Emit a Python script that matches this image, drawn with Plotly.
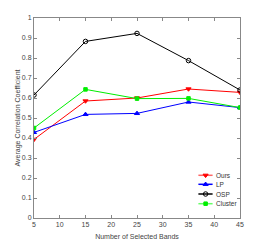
import plotly.graph_objects as go

bands = [5, 15, 25, 35, 45]
ours = [0.393, 0.585, 0.600, 0.645, 0.628]
lp = [0.428, 0.518, 0.523, 0.580, 0.552]
osp = [0.615, 0.883, 0.923, 0.787, 0.640]
cluster = [0.450, 0.643, 0.597, 0.598, 0.552]
names = ["Ours", "LP", "OSP", "Cluster"]

colors = ["#ff0000", "#0000ff", "#000000", "#00ee00"]
symbols = ["triangle-down", "triangle-up", "circle-open", "square"]
sizes = [4.5, 4.5, 4.5, 3.5]

fig = go.Figure()
for name, vals, col, sym, sz in zip(names, [ours, lp, osp, cluster], colors, symbols, sizes):
    fig.add_trace(go.Scatter(
        x=bands, y=vals, name=name, mode="lines+markers", showlegend=False,
        line=dict(color=col, width=1),
        marker=dict(symbol=sym, size=sz, color=col, line=dict(color=col, width=1)),
    ))

# custom compact legend (MATLAB style) on an overlay axis spanning the plot area
leg_x0, leg_xm, leg_x1, leg_tx = 0.798, 0.833, 0.867, 0.874
leg_rows = [0.2135, 0.1685, 0.12, 0.0715]
leg_colors = ["#ff6666", "#0000ff", "#000000", "#66ff66"]
for name, col, lcol, sym, sz, ry in zip(names, colors, leg_colors, symbols, sizes, leg_rows):
    fig.add_trace(go.Scatter(
        x=[leg_x0, leg_x1], y=[ry, ry], mode="lines", xaxis="x2", yaxis="y2",
        line=dict(color=lcol, width=1.5), showlegend=False, hoverinfo="skip"))
    fig.add_trace(go.Scatter(
        x=[leg_xm], y=[ry], mode="markers", xaxis="x2", yaxis="y2",
        marker=dict(symbol=sym, size=sz, color=col, line=dict(color=col, width=1)),
        showlegend=False, hoverinfo="skip"))
    fig.add_annotation(x=leg_tx, y=ry, xref="x2", yref="y2", text=name, showarrow=False,
                       xanchor="left", yanchor="middle",
                       font=dict(family="Liberation Sans, Arial", size=6.5, color="#333"))

axis_font = dict(family="Liberation Sans, Arial", size=7, color="#444")
fig.update_layout(
    width=258, height=237,
    margin=dict(l=26, r=26, t=10, b=27),
    paper_bgcolor="white", plot_bgcolor="white",
    font=axis_font,
    showlegend=False,
    xaxis=dict(range=[5, 45], tickvals=[5, 10, 15, 20, 25, 30, 35, 40, 45], automargin=False,
               showgrid=False, zeroline=False, showline=True, linecolor="#888",
               linewidth=1, mirror="ticks", ticks="inside", ticklen=3, tickcolor="#888",
               title=dict(text="Number of Selected Bands", font=dict(size=7, color="#444"), standoff=6),
               tickfont=axis_font),
    yaxis=dict(range=[0, 1], tickvals=[0, 0.1, 0.2, 0.3, 0.4, 0.5, 0.6, 0.7, 0.8, 0.9, 1], automargin=False,
               ticktext=["0", "0.1", "0.2", "0.3", "0.4", "0.5", "0.6", "0.7", "0.8", "0.9", "1"],
               showgrid=False, zeroline=False, showline=True, linecolor="#888",
               linewidth=1, mirror="ticks", ticks="inside", ticklen=3, tickcolor="#888",
               title=dict(text="Average Correlation Coefficient", font=dict(size=7, color="#444"), standoff=0),
               tickfont=axis_font),
    xaxis2=dict(range=[0, 1], overlaying="x", visible=False, fixedrange=True),
    yaxis2=dict(range=[0, 1], overlaying="y", visible=False, fixedrange=True),
)
fig.write_html("out.html")
